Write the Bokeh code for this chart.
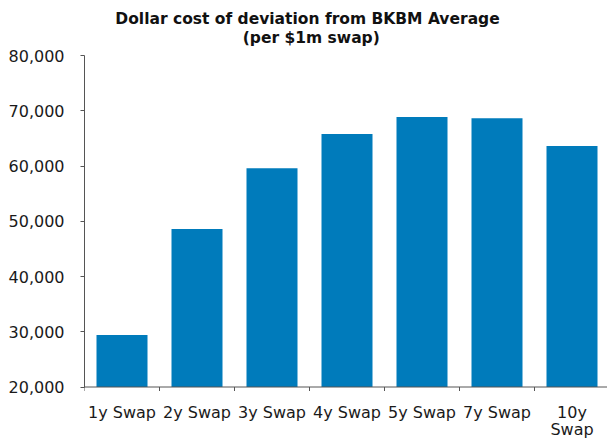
from bokeh.plotting import figure
from bokeh.models import (ColumnDataSource, Range1d, FixedTicker, NumeralTickFormatter,
                          LinearAxis, Span)
from bokeh.core.properties import value
from bokeh.embed import file_html
from bokeh.resources import INLINE

# Swap tenors and dollar cost of deviation per $1m swap
categories = ["1y Swap", "2y Swap", "3y Swap", "4y Swap", "5y Swap", "7y Swap", "10y\nSwap"]
costs = [29400, 48600, 59600, 65800, 68850, 68650, 63600]
y_ticks = [20000, 30000, 40000, 50000, 60000, 70000, 80000]
title_lines = ["Dollar cost of deviation from BKBM Average", "(per $1m swap)"]

BAR_COLOR = "#007BBB"
AXIS_COLOR = "#555555"
LABEL_COLOR = "#1a1a1a"
FONT = "DejaVu Sans"

# Page geometry (pixels): the plot frame fills the page right of the value axis,
# value 80,000 sits at PX_TOP and 20,000 at PX_BASE.
W, H = 607, 439
PX_LEFT = 84
PX_TOP, PX_BASE = 55, 386.5
CAT_PX = 75.0
TICK_PX = 4

y_min, y_max = y_ticks[0], y_ticks[-1]
units_per_px = (y_max - y_min) / (PX_BASE - PX_TOP)
y_lo = y_min - (H - PX_BASE) * units_per_px
y_hi = y_max + PX_TOP * units_per_px
x_hi = (W - PX_LEFT) / CAT_PX

n = len(categories)
centers = [i + 0.5 for i in range(n)]
boundaries = list(range(n + 1))
first_line = [c.split("\n")[0] for c in categories]
second_line = [c.split("\n")[1] if "\n" in c else "" for c in categories]

source = ColumnDataSource(data=dict(x=centers, cost=costs, base=[y_min] * n,
                                    l1=first_line, l2=second_line))

p = figure(width=W, height=H, output_backend="svg", toolbar_location=None,
           x_range=Range1d(0, x_hi), y_range=Range1d(y_lo, y_hi),
           x_axis_location=None, y_axis_location=None,
           min_border_left=PX_LEFT, min_border_right=0, min_border_top=0,
           min_border_bottom=0)

p.vbar(x="x", top="cost", bottom="base", width=0.68, source=source,
       fill_color=BAR_COLOR, line_color=None)

# Value axis, limited to the 20,000 - 80,000 span
yaxis = LinearAxis(ticker=FixedTicker(ticks=y_ticks),
                   formatter=NumeralTickFormatter(format="0,0"),
                   bounds=(y_min, y_max))
yaxis.axis_line_color = AXIS_COLOR
yaxis.major_tick_line_color = AXIS_COLOR
yaxis.major_tick_in = 0
yaxis.major_tick_out = TICK_PX
yaxis.minor_tick_line_color = None
yaxis.major_label_standoff = 16
yaxis.major_label_text_font = FONT
yaxis.major_label_text_font_size = "16px"
yaxis.major_label_text_color = LABEL_COLOR
p.add_layout(yaxis, "left")

# Category axis: base line, tick marks between categories, two-row names
p.add_layout(Span(location=y_min, dimension="width", line_color=AXIS_COLOR,
                  line_width=1))
p.segment(x0=boundaries, y0=[y_min] * (n + 1), x1=boundaries,
          y1=[y_min - TICK_PX * units_per_px] * (n + 1), line_color=AXIS_COLOR,
          line_width=1)
p.text(x="x", y="base", text="l1", source=source, y_offset=25.5,
       text_align="center", text_baseline="alphabetic",
       text_font=value(FONT), text_font_size="16px", text_color=LABEL_COLOR)
p.text(x="x", y="base", text="l2", source=source, y_offset=42.5,
       text_align="center", text_baseline="alphabetic",
       text_font=value(FONT), text_font_size="16px", text_color=LABEL_COLOR)

# Two-line bold heading
title_x = (307 - PX_LEFT) / CAT_PX
p.text(x=[title_x, title_x + 0.05], y=[y_max, y_max], text=title_lines,
       y_offset=[-36.5, -17.8], text_align="center", text_baseline="alphabetic",
       text_font=value(FONT), text_font_size="15.5px", text_font_style="bold",
       text_color="#111111")

p.xgrid.visible = False
p.ygrid.visible = False
p.outline_line_color = None
p.title = None

open("out.html", "w").write(file_html(p, INLINE))
